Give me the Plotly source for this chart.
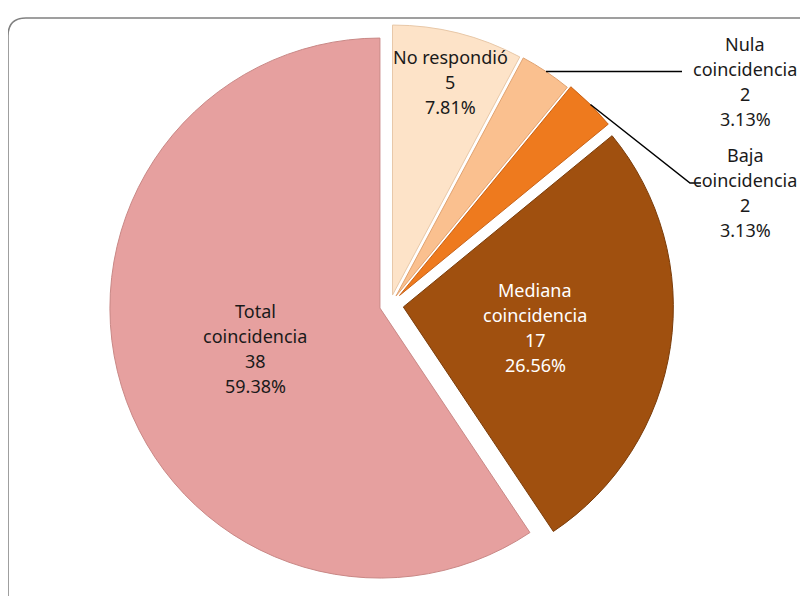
import math
import plotly.graph_objects as go

# ---- data ----
categories = ["No respondió", "Nula coincidencia", "Baja coincidencia",
              "Mediana coincidencia", "Total coincidencia"]
counts = [5, 2, 2, 17, 38]
percent_labels = ["7.81%", "3.13%", "3.13%", "26.56%", "59.38%"]

# ---- styling ----
colors = ["#FDE3C8", "#FAC08F", "#EE7A1E", "#A0500F", "#E6A09F"]
edge_colors = ["#E8C8A8", "#E0A270", "#C8641A", "#7A3C0A", "#C98886"]
pulls = [0.038, 0.04, 0.05, 0.05, 0.039]
text_colors = ["#1a1a1a", "#1a1a1a", "#1a1a1a", "#ffffff", "#1a1a1a"]

W, H = 808, 596
OFF = 8  # page body margin
CX, CY, R = 390, 305, 270
FONT = "Noto Sans"
FSIZE = 18

def px(x):
    return (x - OFF) / W

def py(y):
    return 1 - (y - OFF) / H

half = R * (1 + max(pulls))
fig = go.Figure(go.Pie(
    labels=categories, values=counts, sort=False, direction="clockwise",
    rotation=0, pull=pulls, textinfo="none", hoverinfo="label+value+percent",
    marker=dict(colors=colors, line=dict(color=edge_colors, width=1)),
    domain=dict(x=[px(CX - half), px(CX + half)], y=[py(CY + half), py(CY - half)]),
    showlegend=False,
))

total = sum(counts)

def label_lines(i):
    name = categories[i]
    parts = name.split(" ")
    if name == "No respondió":
        parts = [name]
    return parts + [str(counts[i]), percent_labels[i]]

# inside labels: (block center x, first line y) in pixels
inside_pos = {0: (450, 57), 3: (535, 290), 4: (255, 311)}
outside_pos = {1: (745, 44), 2: (745, 155)}
LINE = 25

annotations = []
for i, (x0, y0) in list(inside_pos.items()) + list(outside_pos.items()):
    for k, t in enumerate(label_lines(i)):
        annotations.append(dict(
            x=px(x0), y=py(y0 + k * LINE), xref="paper", yref="paper",
            text=t, showarrow=False, xanchor="center", yanchor="middle",
            font=dict(family=FONT, size=FSIZE, color=text_colors[i]),
        ))

# leader lines, starting at the outer edge of each outside slice
shapes = []
cum = 0
starts = []
for v in counts:
    starts.append(cum)
    cum += v

def edge_point(i):
    a = math.radians((starts[i] + counts[i] / 2) / total * 360)
    rr = R * (1 + pulls[i])
    return CX + rr * math.sin(a), CY - rr * math.cos(a)

x1, y1 = edge_point(1)
shapes.append(dict(type="path", xref="paper", yref="paper",
                   path=f"M {px(x1)},{py(y1)} L {px(682)},{py(y1)}",
                   line=dict(color="black", width=1.5)))
x2, y2 = edge_point(2)
shapes.append(dict(type="path", xref="paper", yref="paper",
                   path=f"M {px(x2)},{py(y2)} L {px(690)},{py(183)} L {px(701)},{py(183)}",
                   line=dict(color="black", width=1.5)))

# rounded chart frame
shapes.append(dict(type="path", xref="paper", yref="paper",
                   path=(f"M {px(8)},{py(610)} L {px(8)},{py(36)} "
                         f"Q {px(8)},{py(18)} {px(26)},{py(18)} L {px(830)},{py(18)}"),
                   line=dict(color="#808080", width=1.5)))

fig.update_layout(
    width=W, height=H, margin=dict(l=0, r=0, t=0, b=0),
    paper_bgcolor="white", plot_bgcolor="white",
    annotations=annotations, shapes=shapes,
)
fig.write_html("out.html")
